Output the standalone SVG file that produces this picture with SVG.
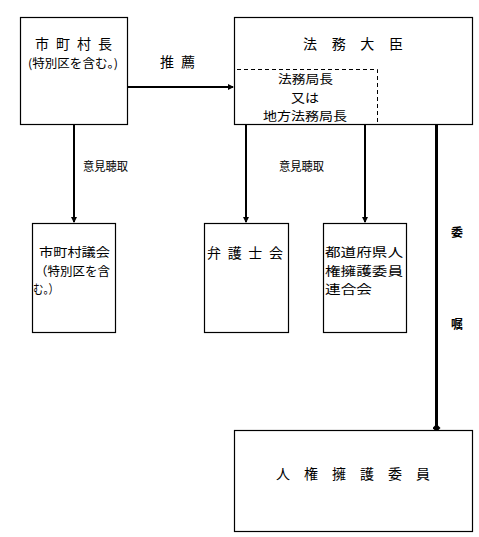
<svg xmlns="http://www.w3.org/2000/svg" width="479" height="537" viewBox="0 0 479 537">
<style>
.box{fill:#fff;stroke:#000;stroke-width:1.2}
.dash{fill:none;stroke:#000;stroke-width:1;stroke-dasharray:4,3}
.t{font-family:"Noto Sans CJK JP","Noto Sans CJK SC",sans-serif;font-size:14px;fill:#000;dominant-baseline:central}
.s{font-size:12px}
.m{font-size:12.4px}
.c{text-anchor:middle}
.ln{stroke:#000;stroke-width:2;fill:none}
</style>
<defs>
<marker id="ah" viewBox="0 0 6 6" refX="5" refY="3" markerWidth="6" markerHeight="6" markerUnits="userSpaceOnUse" orient="auto">
<path d="M0,0 L6,3 L0,6 Z" fill="#000"/>
</marker>
<marker id="dot" viewBox="0 0 8 8" refX="4" refY="4" markerWidth="8" markerHeight="8" markerUnits="userSpaceOnUse" orient="auto">
<path d="M0,4 L4,0 L8,4 L4,8 Z" fill="#000"/>
</marker>
</defs>
<g id="connectors">
<line class="ln" x1="127" y1="87" x2="233" y2="87" marker-end="url(#ah)"/>
<line class="ln" x1="74" y1="124" x2="74" y2="222" marker-end="url(#ah)"/>
<line class="ln" x1="246" y1="124" x2="246" y2="222" marker-end="url(#ah)"/>
<line class="ln" x1="365" y1="124" x2="365" y2="222" marker-end="url(#ah)"/>
<line class="ln" x1="436.5" y1="124" x2="436.5" y2="428" style="stroke-width:3" marker-end="url(#dot)"/>
<text class="t" x="160" y="61" textLength="35" lengthAdjust="spacing">推 薦</text>
<text class="t s" x="83" y="165" textLength="45" lengthAdjust="spacingAndGlyphs">意見聴取</text>
<text class="t s" x="279" y="165" textLength="45" lengthAdjust="spacingAndGlyphs">意見聴取</text>
<text class="t s" x="451" y="231" style="font-weight:bold">委</text>
<text class="t s" x="451" y="323" style="font-weight:bold">嘱</text>
</g>
<g id="node-shichosoncho">
<rect class="box" x="20.5" y="17.5" width="107" height="107"/>
<text class="t" x="35" y="43" textLength="77" lengthAdjust="spacing">市 町 村 長</text>
<text class="t s" x="28" y="62" textLength="90" lengthAdjust="spacingAndGlyphs">(特別区を含む。)</text>
</g>
<g id="node-homudaijin">
<rect class="box" x="234.5" y="17.5" width="238" height="107"/>
<text class="t" x="303" y="43" textLength="100" lengthAdjust="spacing">法 務 大 臣</text>
<path class="dash" d="M237,69.5 H377.5 V124"/>
<text class="t m" x="278" y="79" textLength="55" lengthAdjust="spacingAndGlyphs">法務局長</text>
<text class="t m" x="291" y="97.5" textLength="28" lengthAdjust="spacingAndGlyphs">又は</text>
<text class="t m" x="263" y="116" textLength="84" lengthAdjust="spacingAndGlyphs">地方法務局長</text>
</g>
<g id="node-gikai">
<rect class="box" x="32.5" y="223.5" width="83" height="109"/>
<text class="t m" x="39" y="252" textLength="71" lengthAdjust="spacingAndGlyphs">市町村議会</text>
<text class="t m" x="35" y="270.5" textLength="75" lengthAdjust="spacingAndGlyphs">（特別区を含</text>
<text class="t m" x="33" y="289" textLength="26" lengthAdjust="spacingAndGlyphs">む。）</text>
</g>
<g id="node-bengoshikai">
<rect class="box" x="204.5" y="223.5" width="84" height="109"/>
<text class="t" x="207" y="252" textLength="76" lengthAdjust="spacing">弁 護 士 会</text>
</g>
<g id="node-rengokai">
<rect class="box" x="323.5" y="223.5" width="83" height="109"/>
<text class="t m" x="325" y="252" textLength="78" lengthAdjust="spacingAndGlyphs">都道府県人</text>
<text class="t m" x="325" y="270.5" textLength="78" lengthAdjust="spacingAndGlyphs">権擁護委員</text>
<text class="t m" x="325" y="289" textLength="47" lengthAdjust="spacingAndGlyphs">連合会</text>
</g>
<g id="node-jinkenyogoiin">
<rect class="box" x="234.5" y="430.5" width="238" height="101"/>
<text class="t" x="276" y="473" textLength="154" lengthAdjust="spacing">人 権 擁 護 委 員</text>
</g>
</svg>
